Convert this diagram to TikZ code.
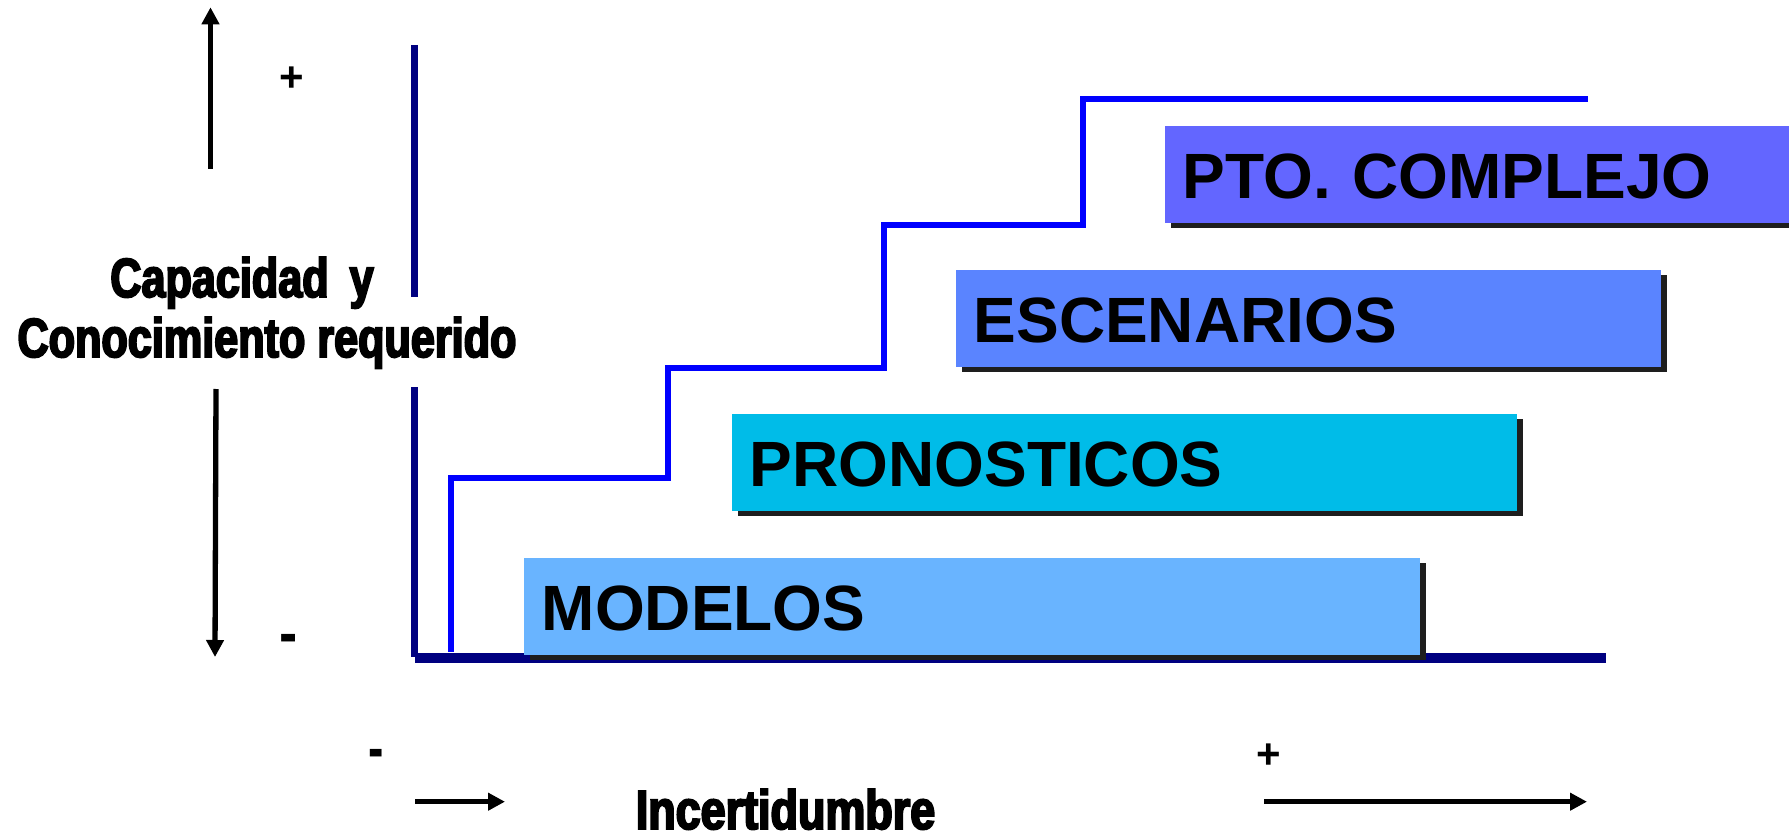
\documentclass[tikz,border=0pt]{standalone}
\usepackage{fontspec}
\setmainfont{Liberation Sans}
\newfontfamily\condfont[FakeStretch=0.785,FakeBold=3.5]{Liberation Sans}
\usetikzlibrary{arrows.meta,shadows}
\definecolor{navyline}{HTML}{000080}
\definecolor{stepblue}{HTML}{0000FF}
\definecolor{shadowgray}{HTML}{1E1E1E}
\definecolor{cmod}{HTML}{69B4FF}
\definecolor{cpron}{HTML}{00BCE8}
\definecolor{cesc}{HTML}{5A84FF}
\definecolor{cpto}{HTML}{6366FF}
\begin{document}
\begin{tikzpicture}[x=1pt,y=-1pt,
  stage/.style={anchor=north west, text height=72pt, text depth=24.7pt,
    inner ysep=0pt, inner xsep=17.5pt, align=left,
    font=\bfseries\fontsize{64}{70}\selectfont,
    drop shadow={shadow xshift=6pt, shadow yshift=-5pt, fill=shadowgray, opacity=1}},
  axislabel/.style={inner sep=0pt, font=\condfont\bfseries\fontsize{55}{60}\selectfont},
  sign/.style={inner sep=0pt, font=\bfseries\fontsize{42}{44}\selectfont},
  axarrow/.style={line width=5.3pt, -{Triangle[length=17pt,width=17pt]}},
  stair/.style={draw=stepblue, line width=6.3pt},
  frame/.style={draw=navyline, line width=7pt},
]
\useasboundingbox (0,0) rectangle (1789,837);
\fill[white] (0,0) rectangle (1789,837);

% staircase
\coordinate (s0) at (450.8,652);
\coordinate (s1) at (450.8,478);
\coordinate (s2) at (667.7,478);
\coordinate (s3) at (667.7,368.3);
\coordinate (s4) at (884.3,368.3);
\coordinate (s5) at (884.3,225);
\coordinate (s6) at (1082.7,225);
\coordinate (s7) at (1082.7,99.2);
\coordinate (s8) at (1588.3,99.2);
\draw[stair] (s0) -- (s1) -- (s2) -- (s3) -- (s4) -- (s5) -- (s6) -- (s7) -- (s8);

% navy frame
\coordinate (v1a) at (414.4,45);
\coordinate (v1b) at (414.4,297);
\coordinate (v2a) at (414.4,387);
\coordinate (v2b) at (414.4,657);
\coordinate (h1a) at (415,658);
\coordinate (h1b) at (1606,658);
\draw[frame] (v1a) -- (v1b);
\draw[frame] (v2a) -- (v2b);
\draw[frame, line width=10.6pt] (h1a) -- (h1b);

% stage boxes
\node[stage, fill=cmod, text width=861pt] (mod) at (524,558) {MODELOS};
\node[stage, fill=cpron, text width=750pt] (pron) at (732,414) {PRONOSTICOS};
\node[stage, fill=cesc, text width=670pt] (esc) at (956,270) {ESCENARIOS};
\node[stage, fill=cpto, text width=600pt] (pto) at (1165,126) {PTO. COMPLEJO};

% axis labels
\node[axislabel, anchor=base] (cap) at (242,297) {Capacidad\hspace{9pt} y};
\node[axislabel, anchor=base] (con) at (267,357) {Conocimiento requerido};
\node[axislabel, anchor=base] (inc) at (785.5,829) {\scalebox{1.04}[1]{Incertidumbre}};

% signs
\node[sign] (pl1) at (291.6,79) {+};
\node[sign] (mi1) at (289,644) {\scalebox{1.3}[1.5]{-}};
\node[sign] (mi2) at (376,759) {\scalebox{1.1}[1.5]{-}};
\node[sign] (pl2) at (1269,756) {+};

% axis arrows
\coordinate (upS) at (210.5,169);
\coordinate (upE) at (210.5,7.3);
\coordinate (dnS) at (216,389);
\coordinate (dnE) at (215,657);
\coordinate (r1S) at (415,801.7);
\coordinate (r1E) at (505,801.7);
\coordinate (r2S) at (1264,801.7);
\coordinate (r2E) at (1587,801.7);
\draw[axarrow] (upS) -- (upE);
\draw[axarrow] (dnS) -- (dnE);
\draw[axarrow] (r1S) -- (r1E);
\draw[axarrow] (r2S) -- (r2E);
\end{tikzpicture}
\end{document}
